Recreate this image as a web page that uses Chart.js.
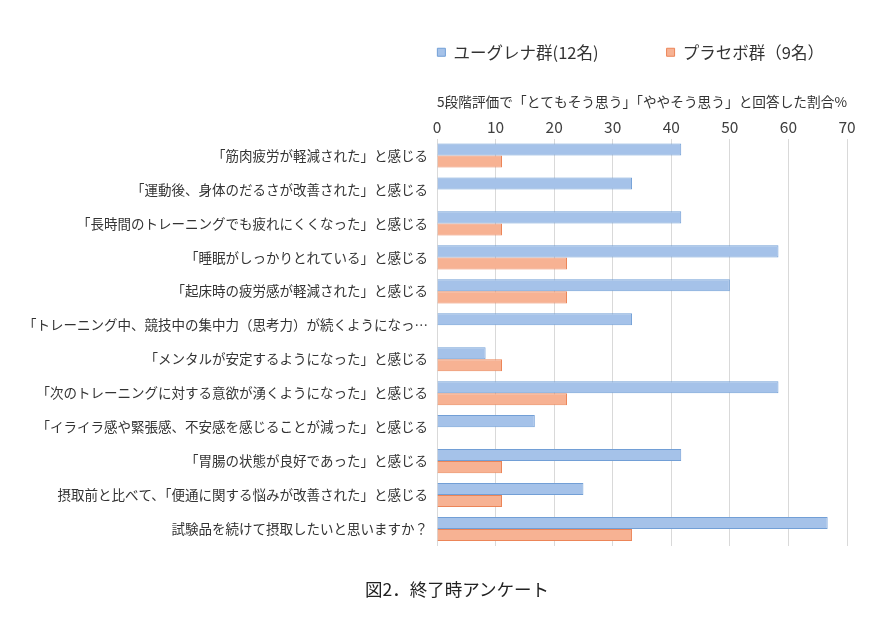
<!DOCTYPE html>
<html>
<head>
<meta charset="utf-8">
<script src="https://cdn.jsdelivr.net/npm/chart.js@4"></script>
<style>
  body { margin: 0; background: #fff; }
  #wrap { position: relative; width: 889px; height: 619px; }
  #caption {
    position: absolute; left: 365px; top: 576px;
    font-family: "Noto Sans CJK JP", sans-serif; font-size: 17.5px; color: #222;
  }
</style>
</head>
<body>
<div id="wrap">
  <canvas id="chartCanvas" width="889" height="619"></canvas>
  <div id="caption">図2．終了時アンケート</div>
</div>
<script>
const categories = [
    "「筋肉疲労が軽減された」と感じる",
    "「運動後、身体のだるさが改善された」と感じる",
    "「長時間のトレーニングでも疲れにくくなった」と感じる",
    "「睡眠がしっかりとれている」と感じる",
    "「起床時の疲労感が軽減された」と感じる",
    "「トレーニング中、競技中の集中力（思考力）が続くようになっ…",
    "「メンタルが安定するようになった」と感じる",
    "「次のトレーニングに対する意欲が湧くようになった」と感じる",
    "「イライラ感や緊張感、不安感を感じることが減った」と感じる",
    "「胃腸の状態が良好であった」と感じる",
    "摂取前と比べて、「便通に関する悩みが改善された」と感じる",
    "試験品を続けて摂取したいと思いますか？"
];
const euglenaValues = [41.7, 33.3, 41.7, 58.3, 50.0, 33.3, 8.3, 58.3, 16.7, 41.7, 25.0, 66.7];
const placeboValues = [11.1, 0, 11.1, 22.2, 22.2, 0, 11.1, 22.2, 0, 11.1, 11.1, 33.3];
const seriesNames = ["ユーグレナ群(12名)", "プラセボ群（9名）"];
const axisTitle = "5段階評価で「とてもそう思う」「ややそう思う」と回答した割合%";

const font = "'Noto Sans CJK JP', sans-serif";

// legend padding is also the gap between items; move the box back up/right
const legendShift = {
    id: "legendShift",
    afterLayout(chart) {
        const lg = chart.legend;
        lg.left += 45; lg.right += 45;
        lg.top -= 28; lg.bottom -= 28;
    }
};

const ctx = document.getElementById("chartCanvas").getContext("2d");
new Chart(ctx, {
    type: "bar",
    data: {
        labels: categories,
        datasets: [{
            label: seriesNames[0],
            data: euglenaValues,
            backgroundColor: "#a5c2e9",
            borderColor: "#729fd6",
            borderWidth: 1
        }, {
            label: seriesNames[1],
            data: placeboValues,
            backgroundColor: "#f7b293",
            borderColor: "#ec8558",
            borderWidth: 1
        }]
    },
    options: {
        indexAxis: "y",
        responsive: false,
        animation: false,
        layout: { padding: { top: 4, right: 42, bottom: 73, left: 0 } },
        datasets: { bar: { categoryPercentage: 0.71, barPercentage: 1.0 } },
        plugins: {
            legend: {
                position: "top",
                align: "end",
                labels: {
                    boxWidth: 8, boxHeight: 8, padding: 68,
                    color: "#333", font: { family: font, size: 16.5 }
                }
            },
            tooltip: { enabled: false }
        },
        scales: {
            x: {
                position: "top",
                min: 0, max: 70,
                ticks: { stepSize: 10, color: "#404040", padding: 2, font: { family: font, size: 15.5 } },
                grid: { color: "#d9d9d9", drawTicks: false },
                border: { display: false },
                title: {
                    display: true, text: axisTitle, color: "#333",
                    padding: { top: -5, bottom: 6 },
                    font: { family: font, size: 13.7 }
                }
            },
            y: {
                ticks: { color: "#333", padding: 9, font: { family: font, size: 13.5 } },
                grid: { display: false, drawTicks: false },
                border: { display: false },
                afterFit: function (scale) { scale.width = 437; }
            }
        }
    },
    plugins: [legendShift]
});
</script>
</body>
</html>
